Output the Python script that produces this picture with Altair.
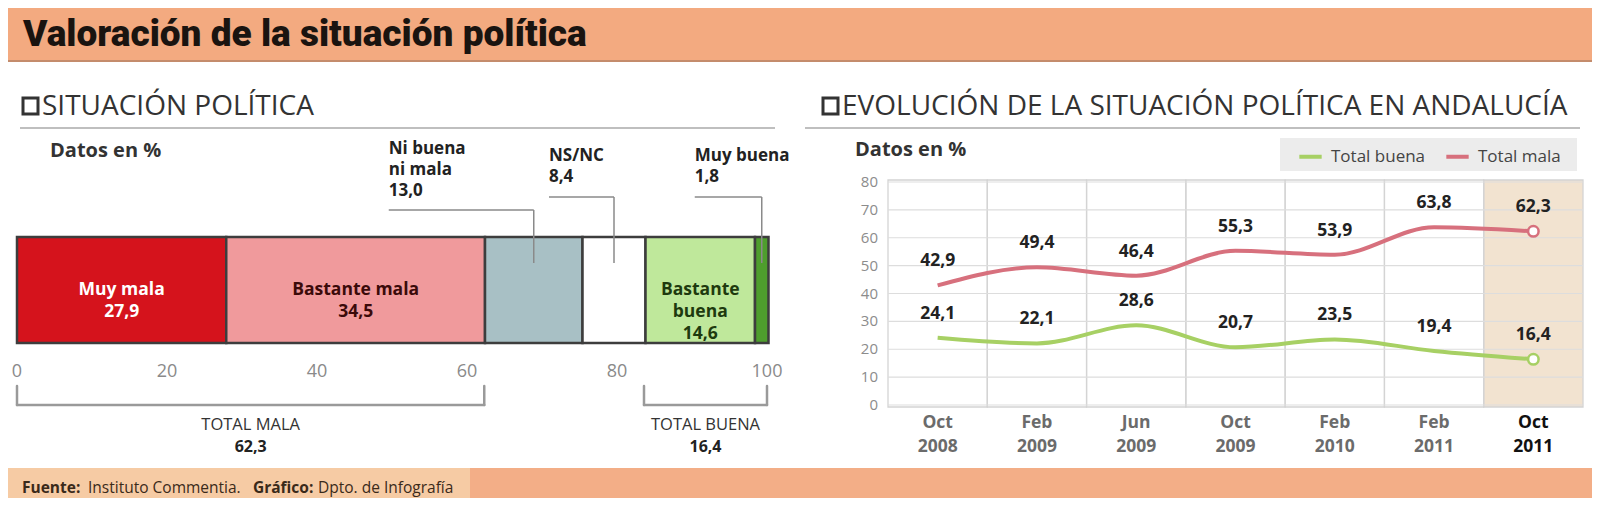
import altair as alt
import pandas as pd

# ---------------- data ----------------
TITLE = "Valoración de la situación política"
LEFT_HEADER = "SITUACIÓN POLÍTICA"
RIGHT_HEADER = "EVOLUCIÓN DE LA SITUACIÓN POLÍTICA EN ANDALUCÍA"
UNITS = "Datos en %"
SOURCE_PARTS = ["Fuente:", "Instituto Commentia.", "Gráfico:", "Dpto. de Infografía"]

BAR_CATEGORIES = ["Muy mala", "Bastante mala", "Ni buena ni mala", "NS/NC", "Bastante buena", "Muy buena"]
BAR_VALUES = [27.9, 34.5, 13.0, 8.4, 14.6, 1.8]
BAR_INSIDE = ["Muy mala", "Bastante mala", "", "", "Bastante\nbuena", ""]
BAR_CALLOUTS = ["", "", "Ni buena\nni mala", "NS/NC", "", "Muy buena"]
AXIS_TICKS = [0, 20, 40, 60, 80, 100]
TOTAL_NAMES = ["TOTAL MALA", "TOTAL BUENA"]
TOTAL_VALUES = [62.3, 16.4]

PERIODS = ["Oct 2008", "Feb 2009", "Jun 2009", "Oct 2009", "Feb 2010", "Feb 2011", "Oct 2011"]
TOTAL_BUENA = [24.1, 22.1, 28.6, 20.7, 23.5, 19.4, 16.4]
TOTAL_MALA = [42.9, 49.4, 46.4, 55.3, 53.9, 63.8, 62.3]
Y_TICKS = [0, 10, 20, 30, 40, 50, 60, 70, 80]
SERIES = ["Total buena", "Total mala"]

# ---------------- style ----------------
FONT = "Open Sans"
TITLE_FONT = "Roboto"
W, H = 1584, 490
BAR_COLORS = ["#D5131C", "#F09A9C", "#A8C0C5", "#FFFFFF", "#BFE89B", "#4E9E2D"]
BAR_TEXT_COLORS = ["#FFFFFF", "#3B0A0A", "#000000", "#000000", "#1E3A0E", "#000000"]
LINE_COLORS = ["#A7D064", "#D7707D"]
XL_RANGE = [9, 759]
XL = alt.Scale(domain=[0, 100], range=XL_RANGE)
PX_PER_UNIT = (XL_RANGE[1] - XL_RANGE[0]) / 100
# callout style: (pixels left of leader, text top, leader y)
CALLOUT_STYLE = {"Ni buena ni mala": (145, 133, 202), "NS/NC": (65, 140, 189), "Muy buena": (67, 140, 189)}
XR_RANGE = [880, 1575]
XP = alt.Scale(type="point", domain=PERIODS, range=XR_RANGE, padding=0.5)
XB = alt.Scale(type="band", domain=PERIODS, range=XR_RANGE, paddingInner=0, paddingOuter=0)
YR = alt.Scale(domain=[0, 80], range=[397, 174])


def fmt(v):
    return f"{v:.1f}".replace(".", ",")


one = pd.DataFrame({"k": [0]})


def rect(x, x2, y, y2, color, **kw):
    return alt.Chart(one).mark_rect(color=color, **kw).encode(
        x=alt.value(x), x2=alt.value(x2), y=alt.value(y), y2=alt.value(y2))


def label(text, x, y, font=FONT, **kw):
    d = pd.DataFrame({"t": [text]})
    return alt.Chart(d).mark_text(font=font, **kw).encode(
        x=alt.value(x), y=alt.value(y), text="t:N")


layers = []

# ---------- title bar / footer ----------
layers.append(rect(0, W, 0, 52, "#F3AA80"))
layers.append(rect(0, W, 52, 54, "#C48C6C"))
layers.append(label(TITLE, 15, 38, font=TITLE_FONT, align="left", baseline="alphabetic",
                    fontSize=37, fontWeight=900, color="#1a1410"))

layers.append(rect(0, W, 460, H, "#F3AE87"))
layers.append(rect(0, 462, 460, H, "#F6CBA4"))
src_x = [14, 80, 245, 310]
for part, xx, bold in zip(SOURCE_PARTS, src_x, [True, False, True, False]):
    layers.append(label(part, xx, 480, align="left", baseline="middle", fontSize=15.5,
                        fontWeight="bold" if bold else "normal", color="#3a2a1a"))

# ---------- section headers ----------
for bx, tx, ux0, ux1, txt in [(15, 34, 12, 767, LEFT_HEADER), (815, 834, 797, 1572, RIGHT_HEADER)]:
    layers.append(rect(bx, bx + 15, 90, 106, "white", stroke="#333333", strokeWidth=3))
    layers.append(label(txt, tx, 99, align="left", baseline="middle",
                        fontSize=28, color="#333333"))
    layers.append(alt.Chart(one).mark_rule(color="#aaaaaa", strokeWidth=1.5).encode(
        x=alt.value(ux0), x2=alt.value(ux1), y=alt.value(120)))
layers.append(label(UNITS, 42, 143, align="left", baseline="middle", fontSize=20,
                    fontWeight="bold", color="#333333"))
layers.append(label(UNITS, 847, 142, align="left", baseline="middle", fontSize=20,
                    fontWeight="bold", color="#333333"))

# ---------- left: stacked bar ----------
bars = pd.DataFrame({"cat": BAR_CATEGORIES, "val": BAR_VALUES})
bars["end"] = bars["val"].cumsum()
bars["start"] = bars["end"] - bars["val"]
bars["mid"] = (bars["start"] + bars["end"]) / 2
bars["inside"] = [f"{l}\n{fmt(v)}" if l else "" for l, v in zip(BAR_INSIDE, BAR_VALUES)]
bars["callout"] = [f"{l}\n{fmt(v)}" if l else "" for l, v in zip(BAR_CALLOUTS, BAR_VALUES)]

layers.append(alt.Chart(bars).mark_bar(stroke="#3d3d3d", strokeWidth=2.5).encode(
    x=alt.X("start:Q", scale=XL, axis=None), x2="end:Q",
    y=alt.value(229), y2=alt.value(335),
    color=alt.Color("cat:N", scale=alt.Scale(domain=BAR_CATEGORIES, range=BAR_COLORS), legend=None)))

inside = bars[bars["inside"] != ""]
layers.append(alt.Chart(inside).mark_text(font=FONT, fontSize=17.5, fontWeight="bold",
                                          lineBreak="\n", lineHeight=22, baseline="middle").encode(
    x=alt.X("mid:Q", scale=XL, axis=None), y=alt.value(282), text="inside:N",
    color=alt.Color("cat:N", scale=alt.Scale(domain=BAR_CATEGORIES, range=BAR_TEXT_COLORS), legend=None)))

for _, row in bars[bars["callout"] != ""].iterrows():
    off, ttop, ly = CALLOUT_STYLE[row["cat"]]
    d = pd.DataFrame([row])
    d["anchor"] = d["mid"] - off / PX_PER_UNIT
    layers.append(alt.Chart(d).mark_text(font=FONT, fontSize=17, fontWeight="bold", align="left",
                                         baseline="top", lineBreak="\n", lineHeight=21,
                                         dx=-off, color="#222222").encode(
        x=alt.X("mid:Q", scale=XL, axis=None), y=alt.value(ttop), text="callout:N"))
    layers.append(alt.Chart(d).mark_rule(color="#8a8a8a", strokeWidth=1.5).encode(
        x=alt.X("anchor:Q", scale=XL, axis=None), x2="mid:Q", y=alt.value(ly)))
    layers.append(alt.Chart(d).mark_rule(color="#8a8a8a", strokeWidth=1.5).encode(
        x=alt.X("mid:Q", scale=XL, axis=None), y=alt.value(ly), y2=alt.value(255)))

ticks = pd.DataFrame({"tick": AXIS_TICKS})
layers.append(alt.Chart(ticks).mark_text(font=FONT, fontSize=18, color="#8a8a8a").encode(
    x=alt.X("tick:Q", scale=XL, axis=None), y=alt.value(364), text="tick:Q"))

totals = pd.DataFrame({"name": TOTAL_NAMES, "val": TOTAL_VALUES})
totals["start"] = [0, 100 - TOTAL_VALUES[1]]
totals["end"] = totals["start"] + totals["val"]
totals["center"] = (totals["start"] + totals["end"]) / 2
totals["vtxt"] = totals["val"].map(fmt)
layers.append(alt.Chart(totals).mark_rule(color="#9a9a9a", strokeWidth=2.5, strokeCap="round").encode(
    x=alt.X("start:Q", scale=XL, axis=None), x2="end:Q", y=alt.value(397)))
for fld in ["start", "end"]:
    layers.append(alt.Chart(totals).mark_rule(color="#9a9a9a", strokeWidth=2.5, strokeCap="round").encode(
        x=alt.X(f"{fld}:Q", scale=XL, axis=None), y=alt.value(378), y2=alt.value(397)))
layers.append(alt.Chart(totals).mark_text(font=FONT, fontSize=16.5, color="#333333").encode(
    x=alt.X("center:Q", scale=XL, axis=None), y=alt.value(417), text="name:N"))
layers.append(alt.Chart(totals).mark_text(font=FONT, fontSize=16, fontWeight="bold", color="#222222").encode(
    x=alt.X("center:Q", scale=XL, axis=None), y=alt.value(439), text="vtxt:N"))

# ---------- right: line chart ----------
pdf = pd.DataFrame({"periodo": PERIODS})
pdf["lab"] = pdf["periodo"].str.replace(" ", "\n")

layers.append(alt.Chart(pdf).transform_filter(alt.datum.periodo == PERIODS[-1]).mark_rect(
    color="#F2E3D0").encode(x=alt.X("periodo:N", scale=XB, axis=None), y=alt.value(172), y2=alt.value(399)))
layers.append(alt.Chart(pdf).mark_rect(fill="transparent", stroke="#d4d4d4", strokeWidth=1.3).encode(
    x=alt.X("periodo:N", scale=XB, axis=None), y=alt.value(172), y2=alt.value(399)))

ydf = pd.DataFrame({"v": Y_TICKS})
layers.append(alt.Chart(ydf).mark_rule(color="#dddddd", strokeWidth=1.2).encode(
    y=alt.Y("v:Q", scale=YR, axis=None), x=alt.value(XR_RANGE[0]), x2=alt.value(XR_RANGE[1])))
layers.append(alt.Chart(ydf).mark_text(font=FONT, fontSize=15, color="#8c8c8c", align="right").encode(
    y=alt.Y("v:Q", scale=YR, axis=None), x=alt.value(870), text="v:Q"))

layers.append(alt.Chart(pdf).mark_text(font=FONT, fontSize=17.5, fontWeight="bold", baseline="top",
                                       lineBreak="\n", lineHeight=24).encode(
    x=alt.X("periodo:N", scale=XP, axis=None), y=alt.value(406), text="lab:N",
    color=alt.condition(alt.datum.periodo == PERIODS[-1], alt.value("#111111"), alt.value("#6b6b6b"))))

# legend background box
layers.append(rect(1272, 1569, 130, 163, "#ececec"))

rows = []
for i, p in enumerate(PERIODS):
    rows.append({"periodo": p, "idx": i, "serie": SERIES[0], "valor": TOTAL_BUENA[i]})
    rows.append({"periodo": p, "idx": i, "serie": SERIES[1], "valor": TOTAL_MALA[i]})
ldf = pd.DataFrame(rows)
ldf["lab"] = ldf["valor"].map(fmt)

layers.append(alt.Chart(ldf).mark_line(interpolate="monotone", strokeWidth=4).encode(
    x=alt.X("periodo:N", scale=XP, axis=None),
    y=alt.Y("valor:Q", scale=YR, axis=None),
    order="idx:Q",
    color=alt.Color("serie:N", scale=alt.Scale(domain=SERIES, range=LINE_COLORS),
                    legend=alt.Legend(orient="none", legendX=1289, legendY=135, direction="horizontal",
                                      title=None, padding=0, labelFontSize=17,
                                      labelFont=FONT, labelColor="#444444", symbolType="stroke",
                                      symbolStrokeWidth=4, symbolSize=500, columnPadding=12,
                                      labelOffset=7))))

layers.append(alt.Chart(ldf).mark_text(font=FONT, fontSize=17.5, fontWeight="bold", dy=-24,
                                       color="#222222").encode(
    x=alt.X("periodo:N", scale=XP, axis=None), y=alt.Y("valor:Q", scale=YR, axis=None), text="lab:N"))

layers.append(alt.Chart(ldf).transform_filter(alt.datum.periodo == PERIODS[-1]).mark_point(
    shape="circle", filled=True, fill="white", size=110, strokeWidth=2.5, opacity=1).encode(
    x=alt.X("periodo:N", scale=XP, axis=None), y=alt.Y("valor:Q", scale=YR, axis=None),
    stroke=alt.Stroke("serie:N", scale=alt.Scale(domain=SERIES, range=LINE_COLORS), legend=None)))

chart = alt.layer(*layers).resolve_scale(
    x="independent", y="independent", color="independent", stroke="independent"
).properties(
    width=W, height=H, autosize=alt.AutoSizeParams(type="none"), padding=0, background="white"
).configure_view(stroke=None)

chart.save("out.html", embed_options={"renderer": "svg", "actions": False})
